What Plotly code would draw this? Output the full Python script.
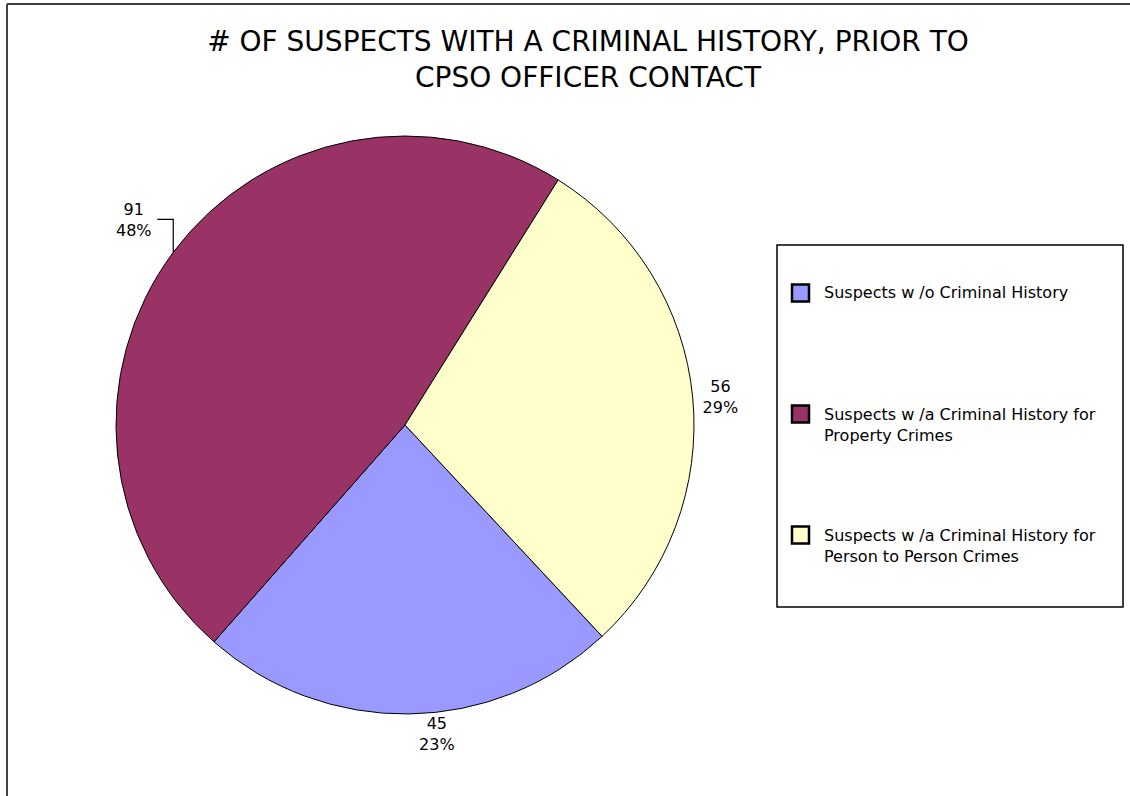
import math
import plotly.graph_objects as go

labels = ["Suspects w /o Criminal History",
          "Suspects w /a Criminal History for Property Crimes",
          "Suspects w /a Criminal History for Person to Person Crimes"]
legend_text = ["Suspects w /o Criminal History",
               "Suspects w /a Criminal History for<br>Property Crimes",
               "Suspects w /a Criminal History for<br>Person to Person Crimes"]
values = [45, 91, 56]
pct_labels = ["23%", "48%", "29%"]
colors = ["#9999FF", "#993366", "#FFFFCC"]
title = "# OF SUSPECTS WITH A CRIMINAL HISTORY, PRIOR TO<br>CPSO OFFICER CONTACT"

W, H = 1130, 796
cx, cy, R = 405, 425, 289
rotation = 137
label_font = dict(family="DejaVu Sans, Verdana", size=16, color="#000")

slice_text = [f"{v}<br>{p}" for v, p in zip(values, pct_labels)]
text_pos = ["outside", "none", "outside"]

fig = go.Figure(go.Pie(
    labels=labels, values=values, sort=False, direction="clockwise",
    rotation=rotation,
    marker=dict(colors=colors, line=dict(color="#000000", width=1)),
    text=slice_text,
    textinfo="text", textposition=text_pos,
    outsidetextfont=label_font,
    hoverinfo="label+value+percent",
    domain=dict(x=[(cx - R) / W, (cx + R) / W], y=[(H - cy - R) / H, (H - cy + R) / H]),
    showlegend=False,
))

def px2paper(x, y):
    return x / W, 1 - y / H

shapes = [
    dict(type="line", xref="paper", yref="paper", x0=7 / W, x1=7 / W, y0=0, y1=1 - 4 / H,
         line=dict(color="#404040", width=2)),
    dict(type="line", xref="paper", yref="paper", x0=7 / W, x1=1, y0=1 - 4 / H, y1=1 - 4 / H,
         line=dict(color="#404040", width=2)),
    # legend box
    dict(type="rect", xref="paper", yref="paper", x0=777 / W, x1=1123 / W,
         y0=1 - 607 / H, y1=1 - 245 / H, line=dict(color="#000", width=1.5), fillcolor="white"),
]
annotations = []
item_y = [293, 414, 535]
for i, (t, c) in enumerate(zip(legend_text, colors)):
    y = item_y[i]
    shapes.append(dict(type="rect", xref="paper", yref="paper",
                       x0=792 / W, x1=809 / W, y0=1 - (y + 8.5) / H, y1=1 - (y - 8.5) / H,
                       line=dict(color="#000", width=2.5), fillcolor=c))
    annotations.append(dict(x=822 / W, y=1 - (y - 11.5) / H, xref="paper", yref="paper",
                            xanchor="left", yanchor="top", align="left", showarrow=False,
                            text=t, font=dict(family="DejaVu Sans", size=16, color="#000")))

# leader line + label for the largest slice, placed from its mid-angle on the rim
cum = 0
total = sum(values)
for i, v in enumerate(values):
    mid = rotation + (cum + v / 2) / total * 360
    cum += v
    if text_pos[i] == "none":
        a = math.radians(mid)
        px = cx + R * math.sin(a)
        py = cy - R * math.cos(a)
        ex, ey = px, py - 33
        hx = ex - 16
        x0, y0 = px2paper(px, py)
        x1, y1 = px2paper(ex, ey)
        x2, _ = px2paper(hx, ey)
        shapes.append(dict(type="path", xref="paper", yref="paper",
                           path=f"M {x0},{y0} L {x1},{y1} L {x2},{y1}",
                           line=dict(color="#000", width=1.2)))
        ax, ay = px2paper(hx - 3, ey + 1)
        annotations.append(dict(x=ax, y=ay, xref="paper", yref="paper",
                                xanchor="right", yanchor="middle", align="center",
                                showarrow=False, text=slice_text[i], font=label_font))

fig.update_layout(
    width=W, height=H,
    margin=dict(l=0, r=0, t=0, b=0),
    paper_bgcolor="white", plot_bgcolor="white",
    title=dict(text=title, x=588 / W, xanchor="center", y=1 - 51 / H, yanchor="top",
               font=dict(family="DejaVu Sans", size=28, color="#000")),
    shapes=shapes, annotations=annotations,
)
fig.write_html("out.html", post_script="document.body.style.margin='0';",
               config={"displayModeBar": False})
